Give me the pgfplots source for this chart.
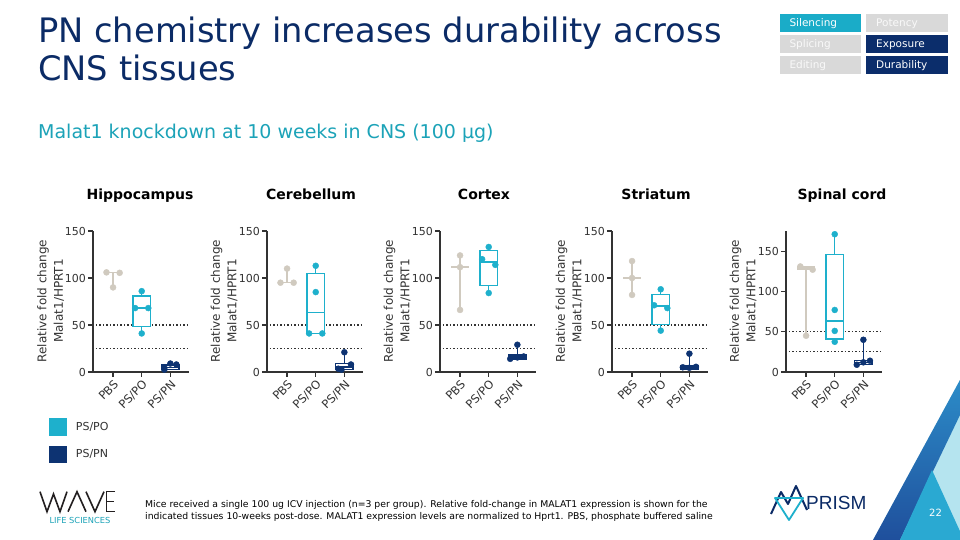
\documentclass[border=0pt]{standalone}
\usepackage{fontspec}
\setmainfont{DejaVu Sans}
\newfontfamily\arial{Liberation Sans}
\usepackage{pgfplots}
\pgfplotsset{compat=1.18}
\usepgfplotslibrary{statistics}

\definecolor{titlec}{RGB}{11,43,102}
\definecolor{subc}{RGB}{28,163,184}
\definecolor{badgeteal}{RGB}{26,172,200}
\definecolor{badgegray}{RGB}{217,217,217}
\definecolor{badgenavy}{RGB}{11,45,107}
\definecolor{pbs}{RGB}{208,202,191}
\definecolor{pspo}{RGB}{30,176,204}
\definecolor{pspn}{RGB}{13,51,114}
\definecolor{axisc}{RGB}{51,51,51}
\definecolor{wavetxt}{RGB}{35,31,32}
\definecolor{lightcyan}{RGB}{181,228,239}
\definecolor{darkblue}{RGB}{31,79,156}
\definecolor{midblue}{RGB}{44,140,200}
\definecolor{triteal}{RGB}{42,169,210}

\newcommand{\bx}[7]{\addplot[draw=#7, fill=white, line width=1.4bp, solid,
  boxplot prepared={draw position=#1, lower whisker=#2, lower quartile=#3,
  median=#4, upper quartile=#5, upper whisker=#6}] coordinates {};}

\pgfplotsset{
  panel/.style={
    scale only axis, width=96bp, height=141bp,
    anchor=south west,
    xmin=-0.7, xmax=2.65, ymin=0, ymax=150,
    axis x line=bottom, axis y line=left,
    axis line style={-, line width=1.2bp, color=axisc},
    xtick={0,1,2}, xticklabels={PBS,PS/PO,PS/PN},
    ytick={0,50,100,150},
    tick style={line width=1.2bp, color=axisc},
    major tick length=5bp, tick align=outside,
    xticklabel style={rotate=45, anchor=north east, inner sep=1.5bp,
      font=\fontsize{11.5bp}{13bp}\selectfont, text=axisc},
    yticklabel style={font=\fontsize{11bp}{13bp}\selectfont, text=axisc, inner sep=2bp},
    /pgf/number format/assume math mode=true,
    clip=false,
    boxplot/draw direction=y,
    boxplot/box extend=0.6,
    boxplot/whisker extend=0,
  },
  dotline/.style={color=axisc, line width=1.2bp, dash pattern=on 1.2bp off 2.3bp},
  pt/.style={only marks, mark=*, mark size=3bp},
}

\begin{document}
\begin{tikzpicture}
\path[use as bounding box, fill=white] (0,0) rectangle (960bp,540bp);

% background triangles bottom right
\begin{scope}
\clip (0,0) rectangle (960bp,540bp);
\fill[lightcyan] (873bp,0bp) -- (960bp,160bp) -- (960bp,0bp) -- cycle;
\shade[bottom color=darkblue, top color=midblue] (873bp,0bp) -- (960bp,160bp) -- (960bp,125bp) -- (900bp,0bp) -- cycle;
\fill[triteal] (900bp,0bp) -- (932bp,70bp) -- (964bp,0bp) -- cycle;
\end{scope}
\node[text=white, font=\fontsize{10bp}{12bp}\selectfont] at (935.5bp,27.5bp) {22};

% Title
\node[anchor=base west, inner sep=0pt, text=titlec, font=\fontsize{33.7bp}{36bp}\selectfont] at (38bp,497bp) {PN chemistry increases durability across};
\node[anchor=base west, inner sep=0pt, text=titlec, font=\fontsize{33.7bp}{36bp}\selectfont] at (38bp,459bp) {CNS tissues};
\node[anchor=base west, inner sep=0pt, text=subc, font=\fontsize{19bp}{22bp}\selectfont] at (38bp,401bp) {Malat1 knockdown at 10 weeks in CNS (100 µg)};

% badges
\tikzset{badge/.style={anchor=north west, minimum height=18bp, inner ysep=0pt, inner xsep=10bp, text width=61.3bp, align=left, font=\fontsize{10.5bp}{12bp}\selectfont}}
\node[badge, fill=badgeteal, text=white] at (779.3bp,525.7bp) {Silencing};
\node[badge, fill=badgegray, text=white!95!gray] at (866bp,525.7bp) {Potency};
\node[badge, fill=badgegray, text=white!95!gray] at (779.3bp,504.7bp) {Splicing};
\node[badge, fill=badgenavy, text=white] at (866bp,504.7bp) {Exposure};
\node[badge, fill=badgegray, text=white!95!gray] at (779.3bp,484bp) {Editing};
\node[badge, fill=badgenavy, text=white] at (866bp,484bp) {Durability};

% panel titles
\tikzset{ptitle/.style={anchor=base, font=\bfseries\fontsize{14bp}{16bp}\selectfont, text=black}}
\node[ptitle] at (140bp,340bp) {Hippocampus};
\node[ptitle] at (311bp,340bp) {Cerebellum};
\node[ptitle] at (484bp,340bp) {Cortex};
\node[ptitle] at (656bp,340bp) {Striatum};
\node[ptitle] at (842bp,340bp) {Spinal cord};

% y labels
\tikzset{ylab/.style={rotate=90, align=center, text=axisc, font=\fontsize{12bp}{16.5bp}\selectfont}}
\node[ylab] at (50.5bp,239bp) {Relative fold change\\Malat1/HPRT1};
\node[ylab] at (224bp,239bp) {Relative fold change\\Malat1/HPRT1};
\node[ylab] at (397bp,239bp) {Relative fold change\\Malat1/HPRT1};
\node[ylab] at (569bp,239bp) {Relative fold change\\Malat1/HPRT1};
\node[ylab] at (743bp,239bp) {Relative fold change\\Malat1/HPRT1};

% Hippocampus
\begin{axis}[panel, at={(93bp,168bp)}]
\addplot[dotline] coordinates {(-0.6,50) (2.65,50)};
\addplot[dotline] coordinates {(-0.6,25) (2.65,25)};
\bx{0}{90}{106}{106}{106}{106}{pbs}
\addplot[pt, pbs] coordinates {(-0.23,106) (0.23,105.5) (0,90)};
\bx{1}{41}{48.5}{68}{81}{86}{pspo}
\addplot[pt, pspo] coordinates {(1,86) (0.77,68) (1.23,68) (1,41)};
\bx{2}{2.5}{2.5}{5}{7.5}{9}{pspn}
\addplot[pt, pspn] coordinates {(2,9) (2.21,8) (1.79,4.5) (1.79,2.5)};
\end{axis}

% Cerebellum
\begin{axis}[panel, at={(267bp,168bp)}]
\addplot[dotline] coordinates {(-0.6,50) (2.65,50)};
\addplot[dotline] coordinates {(-0.6,25) (2.65,25)};
\bx{0}{95}{95}{95}{95}{110}{pbs}
\addplot[pt, pbs] coordinates {(0,110) (-0.23,95) (0.23,95)};
\bx{1}{41}{41}{63}{105}{113}{pspo}
\addplot[pt, pspo] coordinates {(1,113) (1,85) (0.77,41) (1.23,41)};
\bx{2}{2.5}{2.5}{5.4}{9}{21}{pspn}
\addplot[pt, pspn] coordinates {(2,21) (2.23,8) (1.79,3.5) (1.9,2.5)};
\end{axis}

% Cortex
\begin{axis}[panel, at={(440bp,168bp)}]
\addplot[dotline] coordinates {(-0.6,50) (2.65,50)};
\addplot[dotline] coordinates {(-0.6,25) (2.65,25)};
\bx{0}{66}{111.5}{111.5}{111.5}{124}{pbs}
\addplot[pt, pbs] coordinates {(0,124) (0,111.5) (0,66)};
\bx{1}{84}{92}{117}{129}{133}{pspo}
\addplot[pt, pspo] coordinates {(1,133) (0.77,120) (1.23,114) (1,84)};
\bx{2}{14}{14}{16}{18}{29}{pspn}
\addplot[pt, pspn] coordinates {(2,29) (1.75,14) (2.22,16.5) (2,15.5)};
\end{axis}

% Striatum
\begin{axis}[panel, at={(612bp,168bp)}]
\addplot[dotline] coordinates {(-0.6,50) (2.65,50)};
\addplot[dotline] coordinates {(-0.6,25) (2.65,25)};
\bx{0}{82}{100}{100}{100}{118}{pbs}
\addplot[pt, pbs] coordinates {(0,118) (0,100) (0,82)};
\bx{1}{44}{50.5}{70}{82.5}{88}{pspo}
\addplot[pt, pspo] coordinates {(1,88) (0.77,71) (1.23,68) (1,44)};
\bx{2}{3}{3}{5}{6.5}{19.5}{pspn}
\addplot[pt, pspn] coordinates {(2,19.5) (1.77,5) (2.23,5.5) (2,4.5)};
\end{axis}

% Spinal cord
\begin{axis}[panel, at={(786bp,168bp)}, ymax=175]
\addplot[dotline] coordinates {(-0.6,50) (2.65,50)};
\addplot[dotline] coordinates {(-0.6,25) (2.65,25)};
\bx{0}{45}{127}{129}{131}{131}{pbs}
\addplot[pt, pbs] coordinates {(-0.2,131) (0.23,127) (0,45)};
\bx{1}{37.5}{41}{63.5}{145.5}{171}{pspo}
\addplot[pt, pspo] coordinates {(1,171) (1,77) (1,51) (1,37.5)};
\bx{2}{9}{9}{12}{14.5}{40}{pspn}
\addplot[pt, pspn] coordinates {(2,40) (2.23,14) (1.77,9) (2,12)};
\end{axis}

% legend
\fill[pspo] (49bp,104.3bp) rectangle (66.7bp,121.7bp);
\fill[pspn] (49bp,77.3bp) rectangle (66.7bp,94.3bp);
\node[anchor=west, inner sep=0pt, text=axisc, font=\fontsize{11bp}{13bp}\selectfont] at (75.7bp,112.7bp) {PS/PO};
\node[anchor=west, inner sep=0pt, text=axisc, font=\fontsize{11bp}{13bp}\selectfont] at (75.7bp,85.7bp) {PS/PN};

% footnote
\node[anchor=base west, inner sep=0pt, text=black, font=\fontsize{9.3bp}{12bp}\selectfont] at (145bp,32.5bp) {Mice received a single 100 ug ICV injection (n=3 per group). Relative fold-change in MALAT1 expression is shown for the};
\node[anchor=base west, inner sep=0pt, text=black, font=\fontsize{9.3bp}{12bp}\selectfont] at (145bp,20.5bp) {indicated tissues 10-weeks post-dose. MALAT1 expression levels are normalized to Hprt1. PBS, phosphate buffered saline};

% WAVE logo
\begin{scope}[line width=1.6bp, wavetxt, line join=miter]
\draw (40bp,48.3bp) -- (47bp,28.3bp) -- (53.5bp,46bp) -- (60bp,28.3bp) -- (67bp,48.3bp);
\draw (68bp,28.3bp) -- (77bp,48.3bp) -- (86bp,28.3bp);
\draw (86bp,48.3bp) -- (95bp,28.3bp) -- (104bp,48.3bp);
\draw (115bp,48.3bp) -- (106.5bp,48.3bp) -- (106.5bp,28.3bp) -- (115bp,28.3bp);
\draw (106.5bp,38.3bp) -- (114bp,38.3bp);
\end{scope}
\node[anchor=center, inner sep=0pt, text=subc, font=\fontsize{8.3bp}{9bp}\selectfont] at (80bp,19.7bp) {LIFE SCIENCES};

% PRISM logo
\draw[titlec, line width=2bp, line join=round] (771bp,26bp) -- (781bp,48bp) -- (788bp,36bp) -- (796bp,54bp) -- (807bp,30bp);
\draw[pspo, line width=1.8bp, line join=round] (775bp,42bp) -- (803bp,42bp) -- (789bp,20bp) -- cycle;
\node[anchor=base west, inner sep=0pt, text=titlec, font=\arial\fontsize{19bp}{20bp}\selectfont] at (806bp,30.7bp) {PRISM};
\end{tikzpicture}
\end{document}
